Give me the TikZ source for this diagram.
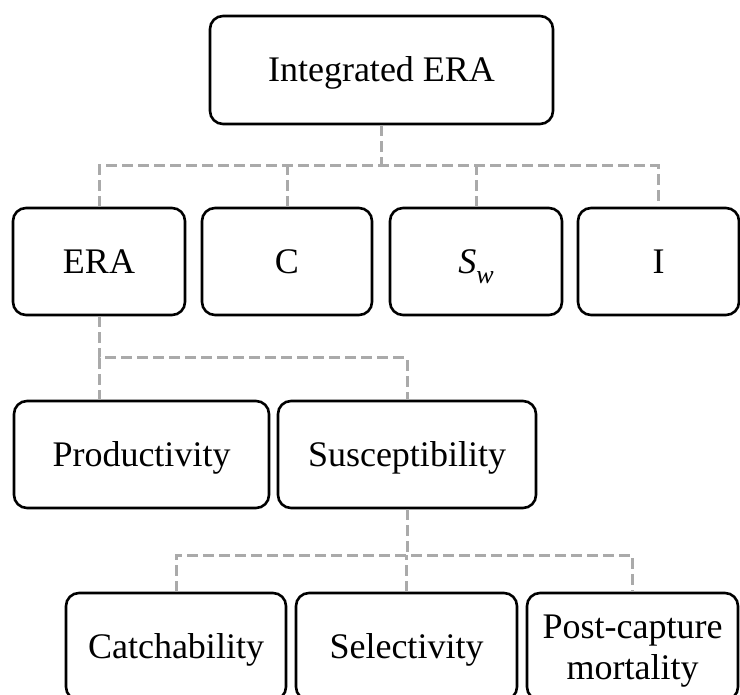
\documentclass[tikz,border=0pt]{standalone}
\usepackage{fontspec}
\setmainfont{Liberation Serif}
\usetikzlibrary{positioning}
\definecolor{linkgray}{RGB}{170,170,170}

\begin{document}
\begin{tikzpicture}[x=1pt, y=-1pt,
		box/.style={draw, line width=2.6pt, rounded corners=13pt,
			minimum height=107pt, inner sep=0pt, align=center,
			text height=24pt, text depth=0pt,
			font=\fontsize{36}{41}\selectfont
		},
		link/.style={draw=linkgray, line width=3pt, dash pattern=on 11pt off 5pt}]
		
		\useasboundingbox (0,0) rectangle (740,695);
		
		\node[box, minimum width=343pt, minimum height=108pt] (top) at (381.5,70) {Integrated ERA};
		
		\node[box, minimum width=172pt] (era) at (99,261.5) {ERA};
		\node[box, minimum width=170pt] (cc) at (287,261.5) {C};
		\node[box, minimum width=172pt] (sw) at (476,261.5)
			{\textit{S}\raisebox{-10pt}{\fontsize{26}{26}\selectfont\textit{w}}};
		\node[box, minimum width=161pt] (iota) at (658.5,261.5) {I};
		
		\node[box, minimum width=255pt] (prod) at (141.5,454.5) {Productivity};
		\node[box, minimum width=258pt] (susc) at (407,454.5) {Susceptibility};
		
		\node[box, minimum width=220pt] (catch) at (176,646.5) {Catchability};
		\node[box, minimum width=221pt] (sel) at (406.5,646.5) {Selectivity};
		\node[box, minimum width=211pt, text height=65pt] (post) at (632.5,646.5) {Post-capture\\mortality};
		
		\coordinate (j1) at (381.5,166);
		\coordinate (j2) at (99,358);
		\coordinate (j3) at (407,555);
		
		\draw[link] (top.south) -- (j1);
		\draw[link] (era.north) |- (j1) -| (iota.north);
		\draw[link] (cc.north) -- (cc.north |- j1);
		\draw[link] (sw.north) -- (sw.north |- j1);
		
		\draw[link] (era.south) -- (j2) -| (susc.north);
		\draw[link] (j2) -- (j2 |- prod.north);
		
		\draw[link] (susc.south) -- (j3);
		\draw[link] (catch.north) |- (j3) -| (post.north);
		\draw[link] (sel.north) -- (sel.north |- j3);
	\end{tikzpicture}
\end{document}
